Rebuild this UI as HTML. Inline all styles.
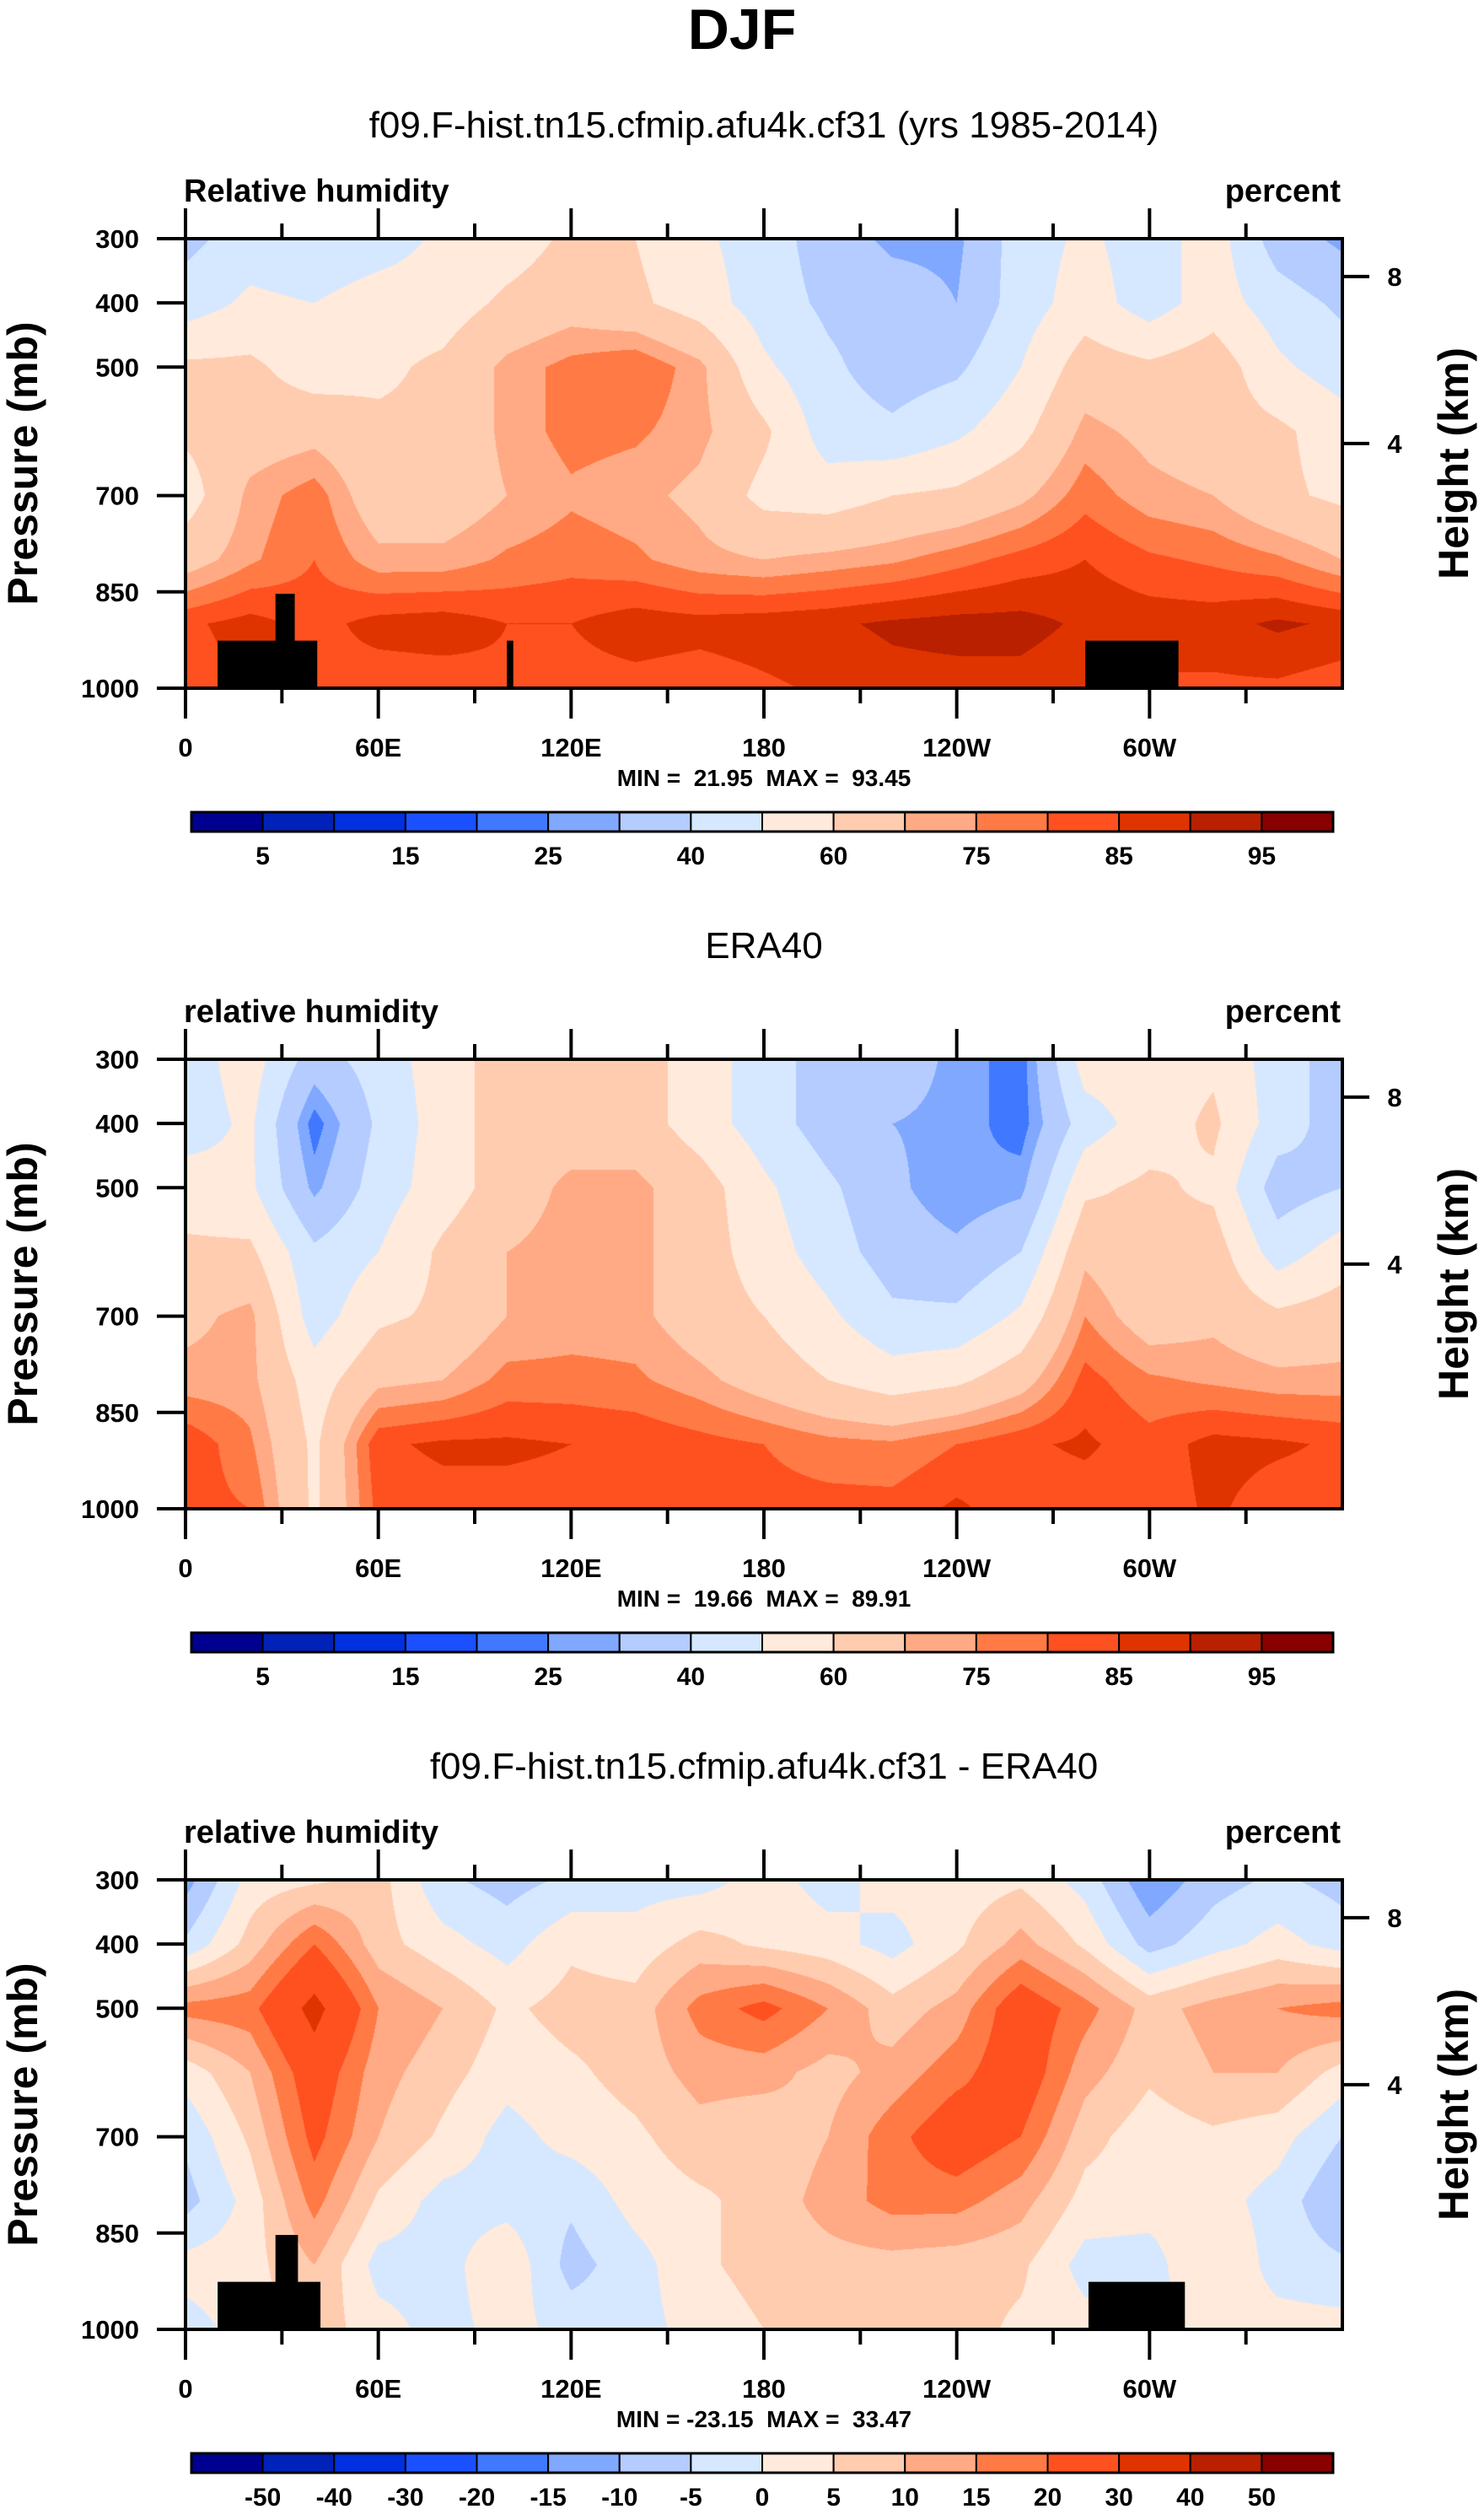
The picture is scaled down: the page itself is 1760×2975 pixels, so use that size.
<!DOCTYPE html>
<html><head><meta charset="utf-8">
<style>
html,body{margin:0;padding:0;background:#fff;}
#wrap{position:relative;width:1760px;height:2975px;overflow:hidden;font-family:"Liberation Sans",Arial,sans-serif;}
canvas{position:absolute;}
svg{position:absolute;left:0;top:0;}
</style></head>
<body>
<div id="wrap">
<canvas id="c0" width="1372" height="533" style="left:220px;top:283px"></canvas>
<canvas id="c1" width="1372" height="533" style="left:220px;top:1256px"></canvas>
<canvas id="c2" width="1372" height="533" style="left:220px;top:2229px"></canvas>
<svg id="s" width="1760" height="2975"></svg>
</div>
<script>
// ---- data ----
const lons = [0,20,40,60,80,100,120,140,160,180,200,220,240,260,280,300,320,340,360];
const levels = [300,400,500,600,700,800,900,1000];
const rhModel = [
[37,45,42,45,52,55,62,60,52,45,35,28,28,45,52,45,55,35,28],
[45,52,50,55,55,62,66,62,55,45,38,35,30,45,55,45,55,45,38],
[62,62,55,58,62,72,77,80,72,52,42,35,38,50,65,62,66,52,45],
[62,65,67,62,62,72,77,76,72,62,45,42,48,57,72,68,65,62,55],
[55,72,78,64,64,70,74,72,68,57,55,60,62,68,78,72,70,62,58],
[66,74,80,72,72,76,78,76,72,70,72,74,78,82,85,81,79,76,70],
[84,87,83,87,88,85,85,88,87,88,89,91,92,92,89,88,88,91,89],
[82,86,84,82,82,84,83,83,82,84,86,88,88,88,86,84,84,84,82]];
const rhEra = [
[45,55,35,45,55,65,65,65,55,45,35,35,28,22,55,55,58,45,35],
[45,52,22,42,55,65,65,65,55,45,35,30,28,22,45,55,62,45,35],
[55,52,28,45,55,65,72,72,65,52,42,32,25,28,58,62,58,35,40],
[62,62,42,50,62,70,73,72,65,55,45,35,32,40,68,62,65,45,55],
[68,72,45,58,62,70,72,72,65,60,52,42,42,52,75,65,68,62,65],
[72,72,55,68,70,77,77,76,72,66,60,55,58,66,82,76,74,72,72],
[84,76,58,84,86,86,85,84,82,80,77,76,80,84,86,82,87,86,84],
[82,80,58,82,83,83,83,82,82,82,82,82,86,82,82,82,86,82,82]];
const rhDiff = [
[-12,2,4,7,-4,-7,-4,-2,-2,2,-2,2,2,4,-2,-14,-7,-4,-7],
[-4,7,20,7,2,-2,4,2,7,4,2,-2,4,12,4,-7,-2,2,-2],
[17,18,33,15,10,4,7,7,17,22,15,7,12,25,17,8,12,15,17],
[2,10,25,12,7,2,4,7,12,12,8,12,18,25,12,6,10,10,3],
[-4,6,22,10,4,-2,2,4,8,6,10,18,25,20,7,2,4,2,-5],
[-7,2,17,4,-2,-2,-4,2,4,7,12,17,17,12,3,2,2,-2,-10],
[2,3,10,-2,-2,4,-7,-2,4,7,8,8,7,6,-2,-2,5,-2,-4],
[-2,2,8,2,-2,2,-2,-2,2,5,7,7,7,4,2,-2,2,2,2]];
const rhBounds = [5,10,15,20,25,30,40,50,60,70,75,80,85,90,95];
const diffBounds = [-50,-40,-30,-20,-15,-10,-5,0,5,10,15,20,30,40,50];
const palette = ['#000090','#0022b8','#0030e0','#1a50ff','#4078ff','#80a8ff','#b4ccff','#d6e8ff','#ffeadb','#ffccb0','#ffaa84','#ff7a45','#ff5020','#e03400','#b82000','#880000'];
const xTickLabels = ['0','60E','120E','180','120W','60W'];
const xTickLons = [0,60,120,180,240,300];
const pTicks = [300,400,500,700,850,1000];
const hTickLabels = ['8','4'];
const hTickPressures = [359,619];
const minMax = ['MIN =  21.95  MAX =  93.45','MIN =  19.66  MAX =  89.91','MIN = -23.15  MAX =  33.47'];
// topography blocks: [lon0, lon1, pressureTop]
const topoModel = [[10,41,926],[28,34,853],[100,102,926],[280,309,926]];
const topoDiff = [[10,42,926],[28,35,853],[281,311,926]];

// ---- axes ----
const PX0=220, PW=1372, PH=533;
const offs=[0,973,1946];
const xS = lon => PX0 + lon/360*PW;
const yS = (p,o) => 283+o + (p-300)/700*PH;

function colorIdx(v,b){let i=0;while(i<b.length&&v>=b[i])i++;return i;}
function hexRgb(h){return [parseInt(h.substr(1,2),16),parseInt(h.substr(3,2),16),parseInt(h.substr(5,2),16)];}
const rgbs = palette.map(hexRgb);
function fill(id,grid,bounds){
  const cv=document.getElementById(id),ctx=cv.getContext('2d');
  const img=ctx.createImageData(PW,PH);
  for(let y=0;y<PH;y++){
    const p=300+y/(PH-1)*700;
    let j=Math.min(levels.length-2,Math.floor((p-300)/100)); const fy=(p-levels[j])/100;
    for(let x=0;x<PW;x++){
      const lon=x/(PW-1)*360;
      let i=Math.min(lons.length-2,Math.floor(lon/20)); const fx=(lon-lons[i])/20;
      const v=(grid[j][i]*(1-fx)+grid[j][i+1]*fx)*(1-fy)+(grid[j+1][i]*(1-fx)+grid[j+1][i+1]*fx)*fy;
      const c=rgbs[colorIdx(v,bounds)];const k=(y*PW+x)*4;
      img.data[k]=c[0];img.data[k+1]=c[1];img.data[k+2]=c[2];img.data[k+3]=255;
    }
  }
  ctx.putImageData(img,0,0);
}
fill('c0',rhModel,rhBounds);fill('c1',rhEra,rhBounds);fill('c2',rhDiff,diffBounds);

const svg=document.getElementById('s');const NS='http://www.w3.org/2000/svg';
function el(t,a,txt){const e=document.createElementNS(NS,t);for(const k in a)e.setAttribute(k,a[k]);if(txt!==undefined)e.textContent=txt;svg.appendChild(e);return e;}
let e;
e=el('text',{x:880,y:58,'text-anchor':'middle','font-size':68,'font-weight':'bold'},'DJF');


const subs=['f09.F-hist.tn15.cfmip.afu4k.cf31 (yrs 1985-2014)','ERA40','f09.F-hist.tn15.cfmip.afu4k.cf31 - ERA40'];
const lefts=['Relative humidity','relative humidity','relative humidity'];
[topoModel,[],topoDiff].forEach((topo,k)=>{
  const o=offs[k];
  e=el('text',{x:906,y:163+o,'text-anchor':'middle','font-size':44},subs[k]);
  
  
  e=el('text',{x:218,y:239+o,'font-size':38,'font-weight':'bold'},lefts[k]);
  
  
  e=el('text',{x:1590,y:239+o,'text-anchor':'end','font-size':38,'font-weight':'bold'},'percent');
  
  
  topo.forEach(t=>{
    e=el('rect',{x:xS(t[0]),y:yS(t[2],o),width:xS(t[1])-xS(t[0]),height:yS(1000,o)-yS(t[2],o),fill:'#000'});
    
    
  });
  e=el('rect',{x:PX0,y:283+o,width:PW,height:PH,fill:'none',stroke:'#000','stroke-width':4});
  
  
  for(let lon=0;lon<=330;lon+=30){
    const maj=lon%60===0,L=maj?36:18;
    e=el('line',{x1:xS(lon),x2:xS(lon),y1:yS(1000,o),y2:yS(1000,o)+L,stroke:'#000','stroke-width':4});
    
    
    e=el('line',{x1:xS(lon),x2:xS(lon),y1:283+o,y2:283+o-L,stroke:'#000','stroke-width':4});
    
    
  }
  xTickLabels.forEach((s,i)=>{
    e=el('text',{x:xS(xTickLons[i]),y:897+o,'text-anchor':'middle','font-size':31,'font-weight':'bold'},s);
    
    
  });
  pTicks.forEach(p=>{
    e=el('line',{x1:PX0-34,x2:PX0,y1:yS(p,o),y2:yS(p,o),stroke:'#000','stroke-width':4});
    
    
    e=el('text',{x:165,y:yS(p,o)+11,'text-anchor':'end','font-size':31,'font-weight':'bold'},String(p));
    
    
  });
  hTickPressures.forEach((p,i)=>{
    e=el('line',{x1:PX0+PW,x2:PX0+PW+32,y1:yS(p,o),y2:yS(p,o),stroke:'#000','stroke-width':4});
    
    
    e=el('text',{x:1654,y:yS(p,o)+11,'text-anchor':'middle','font-size':31,'font-weight':'bold'},hTickLabels[i]);
    
    
  });
  const cy=283+o+PH/2;
  e=el('text',{x:0,y:0,'text-anchor':'middle','font-size':50,'font-weight':'bold',transform:`translate(44,${cy}) rotate(-90)`},'Pressure (mb)');
  
  
  e=el('text',{x:0,y:0,'text-anchor':'middle','font-size':50,'font-weight':'bold',transform:`translate(1741,${cy}) rotate(-90)`},'Height (km)');
  
  
  e=el('text',{x:906,y:932+o,'text-anchor':'middle','font-size':28,'font-weight':'bold',style:'white-space:pre'},minMax[k]);
  
  
  // colorbar
  const cx0=227,cw=(1581-227)/16,cyT=963+o;
  palette.forEach((c,i)=>{
    e=el('rect',{x:cx0+i*cw,y:cyT,width:cw,height:23,fill:c,stroke:'#000','stroke-width':2});
    
    
  });
  e=el('rect',{x:cx0,y:cyT,width:cw*16,height:23,fill:'none',stroke:'#000','stroke-width':3});
  
  
  const bnds=k===2?diffBounds:rhBounds;
  bnds.forEach((b,i)=>{
    if(k<2 && i%2===1) return;
    e=el('text',{x:cx0+(i+1)*cw,y:cyT+62,'text-anchor':'middle','font-size':30,'font-weight':'bold'},String(b));
    
    
  });
});
</script>
</body></html>
